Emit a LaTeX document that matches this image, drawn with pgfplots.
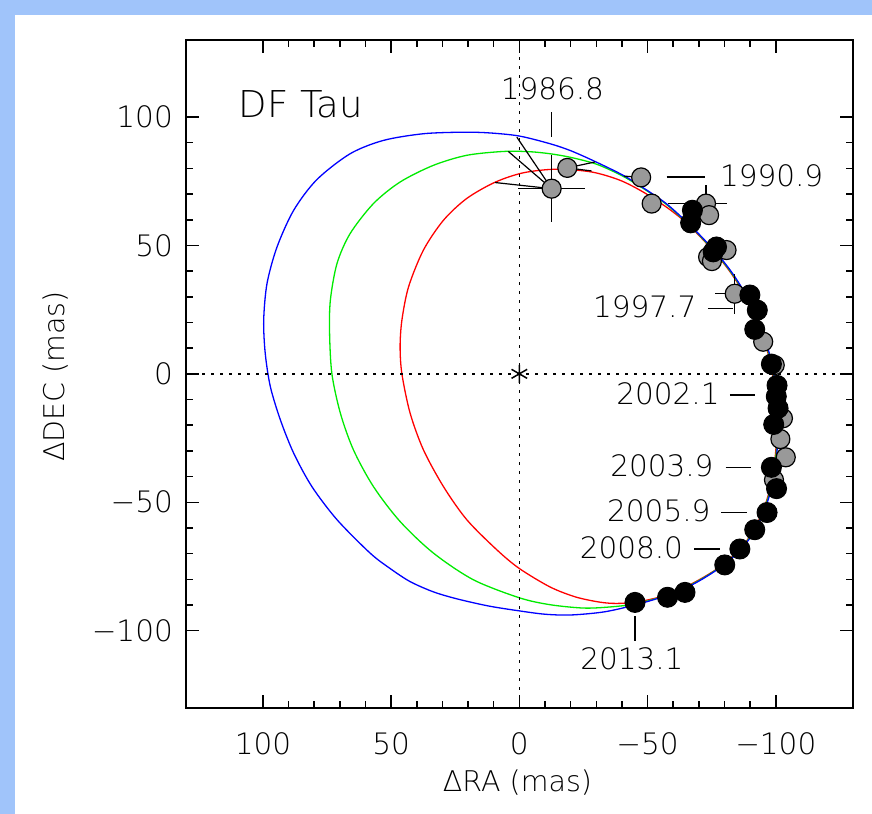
\documentclass[border=0pt]{standalone}
\usepackage{fontspec}
\IfFontExistsTF{DejaVu Sans ExtraLight}{\setmainfont{DejaVu Sans ExtraLight}}{\setmainfont{DejaVu Sans}}
\usepackage{pgfplots}
\pgfplotsset{compat=1.18}
\definecolor{bgblue}{RGB}{160,196,250}
\definecolor{mgray}{RGB}{153,153,153}
\definecolor{oblue}{RGB}{0,0,255}
\definecolor{ogreen}{RGB}{0,235,0}
\definecolor{ored}{RGB}{255,0,0}
\newcommand\lab{\fontsize{29.5bp}{35bp}\selectfont}
\newcommand\axlab{\fontsize{28.5bp}{34bp}\selectfont}
\begin{document}
\begin{tikzpicture}
\fill[bgblue] (0,0) rectangle (872bp,814bp);
\fill[white] (15bp,0) rectangle (872bp,799bp);
\begin{axis}[
  scale only axis,
  at={(186bp,106.3bp)}, anchor=south west,
  width=666.7bp, height=667.7bp,
  xmin=-130, xmax=130, ymin=-130, ymax=130,
  x dir=reverse,
  xtick={-100,-50,0,50,100},
  xticklabels={−100,−50,0,50,100},
  ytick={-100,-50,0,50,100},
  yticklabels={−100,−50,0,50,100},
  minor x tick num=4, minor y tick num=4,
  tick align=inside,
  major tick length=13bp, minor tick length=7bp,
  every tick/.style={black, line width=1.5bp},
  axis line style={line width=2bp, black},
  xticklabel style={font=\lab, anchor=north, inner sep=0pt, yshift=-25bp},
  yticklabel style={font=\lab, anchor=east, inner sep=0pt, xshift=-13bp},
]
% orbits (red, green, blue)
\addplot[ored, line width=1.3bp, smooth] coordinates {
(-100.4,-21) (-100.0,-30) (-98.9,-39) (-97.0,-47.5) (-94.1,-55.5) (-90.1,-63) (-84.5,-69.8) (-77.0,-76.0) (-67.3,-81.7) (-56.5,-86.4) (-46,-88.8) (-38,-89.4) (-31.4,-88.9) (-22,-86.9) (-12,-83.0) (0,-75.8) (8.8,-68.5) (20.5,-56.8) (29.6,-43.9) (37.4,-29.6) (42.6,-15.3) (45.8,0) (46.5,10.6) (45.8,20.9) (43.2,33.9) (37.4,48.2) (29.6,59.8) (20.5,68.3) (9.5,74.6) (-1.6,78.3) (-14.6,79.7) (-28.2,78.6) (-39.2,75.4) (-48.3,70.8) (-57.4,64.9) (-64.7,59.2) (-71.2,52.7) (-77.7,45.5) (-82.5,39.3) (-86.8,32.6) (-90.5,25) (-93.5,18) (-96.1,11) (-98.0,4) (-99.3,-4) (-100.1,-12) (-100.4,-21)};
\addplot[ogreen, line width=1.3bp, smooth] coordinates {
(-100.65,-21) (-100.25,-30) (-99.15,-39) (-97.25,-47.5) (-94.35,-55.5) (-90.35,-63) (-84.75,-69.8) (-77.25,-76.0) (-67.6,-81.8) (-56.5,-86.5) (-45.1,-89.6) (-35,-90.8) (-25,-91.2) (-12,-89.9) (0,-87.2) (17.9,-80.2) (33.5,-69.8) (46.5,-57.5) (56.9,-43.9) (64.7,-29.6) (69.8,-15.3) (73.1,0) (74.0,15.8) (73.7,28.7) (71.1,43.0) (66.0,54.6) (56.9,66.3) (46.5,74.7) (33.5,81.2) (20.5,85.1) (6.2,86.6) (-4,86.5) (-12,85.7) (-20,84.3) (-30.2,81.6) (-40.5,76.9) (-49.4,71.5) (-57.2,66.1) (-64.95,59.2) (-71.45,52.7) (-77.95,45.5) (-82.75,39.3) (-87.05,32.6) (-90.75,25) (-93.75,18) (-96.35,11) (-98.25,4) (-99.55,-4) (-100.35,-12) (-100.65,-21)};
\addplot[oblue, line width=1.3bp, smooth] coordinates {
(-100.9,-21) (-100.5,-30) (-99.4,-39) (-97.5,-47.5) (-94.6,-55.5) (-90.6,-63) (-85,-69.8) (-77.5,-76.0) (-67.8,-81.9) (-56.5,-86.6) (-45.1,-90.0) (-33,-92.7) (-20,-93.9) (-10,-93.6) (0,-92.3) (12,-90.4) (24.4,-87.6) (33.5,-84.9) (42.6,-80.9) (50.4,-75.8) (58.2,-69.8) (71.1,-56.8) (80.9,-43.9) (88.0,-30.9) (93.2,-17.9) (97.1,-5.0) (99.1,8.0) (99.7,20.9) (98.4,35.2) (94.5,49.4) (88.0,63.7) (79.0,75.6) (66.0,85.7) (53.0,90.9) (37.4,93.5) (21.8,94.1) (11.4,93.8) (0,92.6) (-12,89.6) (-20,86.9) (-29.5,82.7) (-40.5,77.3) (-49.6,71.6) (-57.4,66.2) (-65.2,59.2) (-71.7,52.7) (-78.2,45.5) (-83.0,39.3) (-87.3,32.6) (-91,25) (-94,18) (-96.6,11) (-98.5,4) (-99.8,-4) (-100.6,-12) (-100.9,-21)};
% zero lines
\addplot[black, line width=1.6bp, dash pattern=on 2.5bp off 6.5bp] coordinates {(-130,0) (130,0)};
\addplot[black, line width=1.6bp, dash pattern=on 2.5bp off 6.5bp] coordinates {(0,-130) (0,130)};
% residual lines
\addplot[black, line width=1.2bp] coordinates {(-12.6,72.1) (1.0,92.2)};
\addplot[black, line width=1.2bp] coordinates {(-12.6,72.1) (4.3,86.6)};
\addplot[black, line width=1.2bp] coordinates {(-12.6,72.1) (9.5,74.5)};
\addplot[black, line width=1.2bp] coordinates {(-18.7,80.2) (-29.5,82.5)};
\addplot[black, line width=1.2bp] coordinates {(-18.7,80.2) (-28.2,79.0)};
\addplot[black, line width=1.2bp] coordinates {(-47.5,76.5) (-40.8,77.0)};
% epoch label ticks
\addplot[black, line width=1.6bp] coordinates {(-12.6,101.9) (-12.6,92.2)};
\addplot[black, line width=1.6bp] coordinates {(-57.4,76.7) (-72.3,76.7)};
\addplot[black, line width=1.6bp] coordinates {(-73.5,25.5) (-83.2,25.5)};
\addplot[black, line width=1.6bp] coordinates {(-82.1,-8.3) (-91.8,-8.3)};
\addplot[black, line width=1.6bp] coordinates {(-80.4,-36.5) (-90.5,-36.5)};
\addplot[black, line width=1.6bp] coordinates {(-78.8,-54.0) (-88.6,-54.0)};
\addplot[black, line width=1.6bp] coordinates {(-68.2,-68.2) (-78.2,-68.2)};
\addplot[black, line width=1.6bp] coordinates {(-45.0,-94.4) (-45.0,-104.1)};
% error bars
\addplot[only marks, mark=none, error bars/.cd, x dir=both, x explicit, y dir=both, y explicit, error mark=none, error bar style={black, line width=1.5bp}] coordinates {
(-12.6,72.1) +- (13,13)
(-84.0,31.2) +- (7.8,7.8)
(-72.8,66.3) += (14.8,7.1) -= (8.0,7.1)
};
% older measurements (gray)
\addplot[only marks, mark=*, mark size=9.5bp, mark options={fill=mgray, draw=black, line width=1.2bp}] coordinates {
(-12.6,72.1) (-18.7,80.2) (-47.5,76.5) (-51.6,66.3) (-72.8,66.3) (-74.0,61.8) (-80.8,48.2) (-73.6,45.5) (-75.1,43.9) (-84.0,31.2) (-95.1,12.5) (-99.6,3.4) (-102.8,-17.3) (-101.8,-25.4) (-103.9,-32.5) (-99.3,-41.3)};
% newer measurements (black)
\addplot[only marks, mark=*, mark size=10bp, mark options={fill=black, draw=black, line width=1bp}] coordinates {
(-67.5,63.7) (-66.8,58.8) (-76.9,49.4) (-75.6,47.5) (-89.9,30.7) (-92.8,24.8) (-91.8,17.3) (-98.3,3.8) (-100.5,-4.5) (-100.2,-8.8) (-100.9,-13.4) (-99.2,-19.7) (-98.3,-36.4) (-100.3,-44.7) (-96.6,-54.0) (-91.8,-60.7) (-86.0,-68.2) (-80.1,-74.4) (-64.6,-85.1) (-57.8,-87.0) (-45.1,-89.0)};
% primary
\addplot[only marks, mark=asterisk, mark size=9bp, mark options={black, line width=1.5bp}] coordinates {(0,0)};
% labels
\node[font=\lab, inner sep=0pt] at (axis cs:-12.9,111.0) {1986.8};
\node[font=\lab, inner sep=0pt, anchor=west] at (axis cs:-78.2,77.0) {1990.9};
\node[font=\lab, inner sep=0pt, anchor=east] at (axis cs:-69.1,26.1) {1997.7};
\node[font=\lab, inner sep=0pt, anchor=east] at (axis cs:-78.2,-7.9) {2002.1};
\node[font=\lab, inner sep=0pt, anchor=east] at (axis cs:-75.8,-35.8) {2003.9};
\node[font=\lab, inner sep=0pt, anchor=east] at (axis cs:-74.6,-53.3) {2005.9};
\node[font=\lab, inner sep=0pt, anchor=east] at (axis cs:-63.9,-67.8) {2008.0};
\node[font=\lab, inner sep=0pt] at (axis cs:-43.9,-111.1) {2013.1};
\node[font=\fontsize{37bp}{44bp}\selectfont, inner sep=0pt, anchor=west] at (axis cs:109.5,105.0) {DF Tau};
\end{axis}
\node[font=\axlab, inner sep=0pt] at (517.5bp,31bp) {ΔRA (mas)};
\node[font=\axlab, inner sep=0pt, rotate=90] at (55.5bp,437.5bp) {ΔDEC (mas)};
\pgfresetboundingbox
\useasboundingbox (0,0) rectangle (872bp,814bp);
\end{tikzpicture}
\end{document}
